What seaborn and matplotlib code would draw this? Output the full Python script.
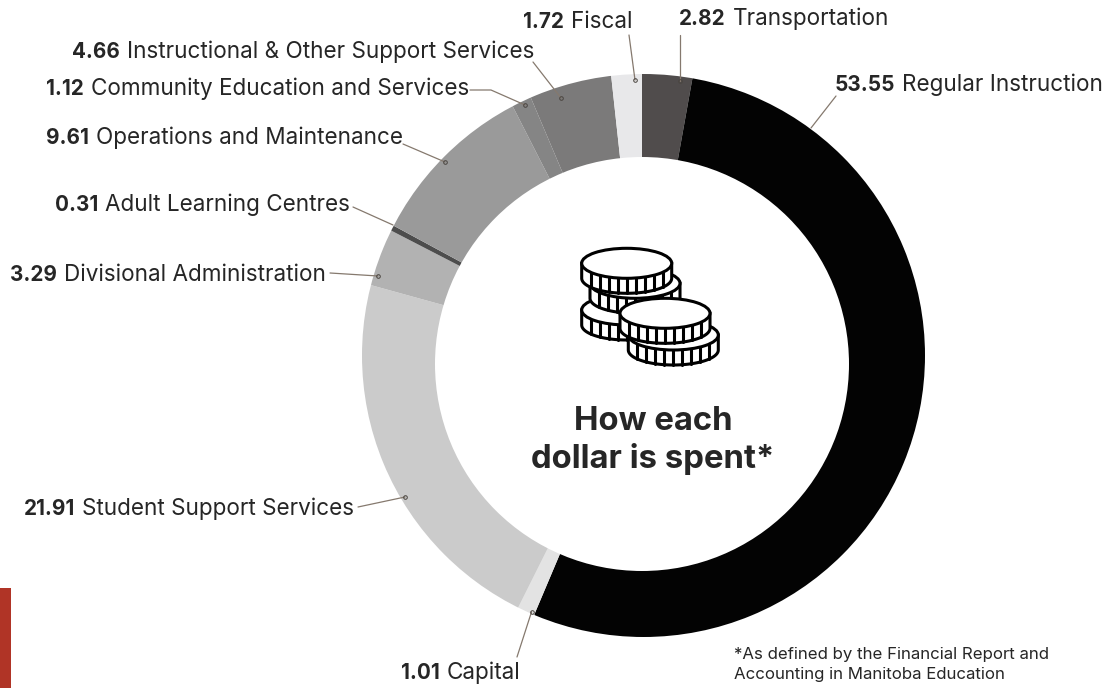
#!/usr/bin/env python3
# -*- coding: utf-8 -*-

"""Donut chart: how each dollar is spent."""

import numpy as np
import matplotlib
matplotlib.use('Agg')
import matplotlib.pyplot as plt
from matplotlib.patches import Circle, Ellipse, Polygon, Rectangle, Wedge
import seaborn as sns

# Data, clockwise from the top
categorias = ['Transportation', 'Regular Instruction', 'Capital',
              'Student Support Services', 'Divisional Administration',
              'Adult Learning Centres', 'Operations and Maintenance',
              'Community Education and Services',
              'Instructional & Other Support Services', 'Fiscal']
valores = [2.82, 53.55, 1.01, 21.91, 3.29, 0.31, 9.61, 1.12, 4.66, 1.72]
colores = ['#504c4c', '#030303', '#e3e3e3', '#cbcbcb', '#b2b2b2',
           '#4d4d4d', '#9a9a9a', '#858585', '#7b7a7a', '#e8e8ea']

# Layout in picture pixels (y downwards)
ANCHO, ALTO = 1108, 688
# hole, outer edge and slice centre are not concentric in the original
CENTRO_PIE = (642, 360)
CENTRO_INT = (642, 364)
RADIO_INT = 207
CENTRO_EXT = (643.5, 355.5)
RADIO_EXT = 281.5
FUENTE = 'Inter'
TEXTO = '#262626'
LINEA = '#85796e'

# label left x, label baseline y, leader points, has end dot
etiquetas = {
    'Transportation': (679, 25, [(680, 35), (680, 81)], True),
    'Regular Instruction': (835, 91, [(836, 96), (811, 128)], False),
    'Capital': (401, 679, [(517, 657), (531.5, 612)], True),
    'Student Support Services': (24, 515, [(358, 507), (405, 497)], True),
    'Divisional Administration': (10, 281, [(330, 273), (378, 276)], True),
    'Adult Learning Centres': (55, 211, [(353, 207), (393, 225)], False),
    'Operations and Maintenance': (46, 144, [(403, 144), (445, 162)], True),
    'Community Education and Services': (46, 95, [(470, 90), (491, 90), (525, 105)], True),
    'Instructional & Other Support Services': (72, 58, [(533, 62), (561, 98)], True),
    'Fiscal': (523, 28, [(629, 35), (635, 80)], True),
}

# coins: centre x, centre y of the top face
monedas = [(626.7, 310), (635, 283.3), (626.7, 263.3), (673.3, 335), (665, 313.3)]
MONEDA_RX, MONEDA_RY, MONEDA_H = 45, 15, 15


def py(y):
    """Pixel y (downwards) to axes y (upwards)."""
    return ALTO - y


def dibujar_moneda(ax, cx, cy):
    """One coin: ribbed side below a white top face."""
    t = np.linspace(np.pi, 2 * np.pi, 60)
    xs = cx + MONEDA_RX * np.cos(t)
    ys = py(cy) + MONEDA_RY * np.sin(t) - MONEDA_H
    cuerpo = np.vstack([np.column_stack([xs, ys]),
                        [cx + MONEDA_RX, py(cy)], [cx - MONEDA_RX, py(cy)]])
    ax.add_patch(Polygon(cuerpo, closed=True, fc='white', ec='black', lw=2.2, zorder=5))
    for xr in cx + MONEDA_RX * np.linspace(-0.8, 0.8, 9):
        yr = py(cy) - MONEDA_RY * np.sqrt(1 - ((xr - cx) / MONEDA_RX) ** 2)
        ax.plot([xr, xr], [yr, yr - MONEDA_H], color='black', lw=2.2, zorder=5)
    ax.add_patch(Ellipse((cx, py(cy)), 2 * MONEDA_RX, 2 * MONEDA_RY,
                         fc='white', ec='black', lw=2.2, zorder=5))


def poner_etiqueta(ax, renderer, x, y, valor, nombre):
    """Bold value followed by the regular category name on one baseline."""
    t = ax.text(x, py(y), f'{valor:.2f}', fontsize=14.9, fontweight='bold',
                family=FUENTE, color=TEXTO, va='baseline', ha='left', zorder=6)
    ancho = t.get_window_extent(renderer).width
    ax.text(x + ancho + 7, py(y), nombre, fontsize=16.2, family=FUENTE,
            color=TEXTO, va='baseline', ha='left', zorder=6)


def main():
    sns.set_theme(style='white')
    fig = plt.figure(figsize=(ANCHO / 100, ALTO / 100), dpi=100)
    ax = fig.add_axes([0, 0, 1, 1])

    # oversized pie; white shapes trim it to the outer edge and cut the hole
    radio_pie = RADIO_EXT + 40
    ax.pie(valores, colors=colores, startangle=90, counterclock=False,
           center=(CENTRO_PIE[0], py(CENTRO_PIE[1])), radius=radio_pie,
           wedgeprops={'linewidth': 0})
    ax.set_xlim(0, ANCHO)
    ax.set_ylim(0, ALTO)
    ax.set_aspect('equal')
    ax.axis('off')
    sns.despine(ax=ax, left=True, bottom=True)

    ax.add_patch(Wedge((CENTRO_EXT[0], py(CENTRO_EXT[1])), RADIO_EXT + 60, 0, 360,
                       width=60, fc='white', ec='none', zorder=2))
    ax.add_patch(Circle((CENTRO_INT[0], py(CENTRO_INT[1])), RADIO_INT,
                        fc='white', ec='none', zorder=2))

    renderer = fig.canvas.get_renderer()
    for nombre, valor in zip(categorias, valores):
        x, y, puntos, con_punto = etiquetas[nombre]
        poner_etiqueta(ax, renderer, x, y, valor, nombre)
        lx = [p[0] for p in puntos]
        ly = [py(p[1]) for p in puntos]
        ax.plot(lx, ly, color=LINEA, lw=0.9, zorder=3)
        if con_punto:
            ax.plot(lx[-1], ly[-1], 'o', ms=2.6, mfc='none', mec='#4a4540', mew=0.7, zorder=4)

    # Coins
    for cx, cy in monedas:
        dibujar_moneda(ax, cx, cy)

    # Centre title
    ax.text(653, py(430), 'How each', fontsize=23.7, fontweight='bold', family=FUENTE,
            color=TEXTO, ha='center', va='baseline')
    ax.text(653, py(468), 'dollar is spent*', fontsize=23.7, fontweight='bold', family=FUENTE,
            color=TEXTO, ha='center', va='baseline')

    # Footnote
    ax.text(734, py(659), '*As defined by the Financial Report and', fontsize=12.1,
            family=FUENTE, color=TEXTO, va='baseline')
    ax.text(734, py(679), 'Accounting in Manitoba Education', fontsize=12.1,
            family=FUENTE, color=TEXTO, va='baseline')

    # Red tab, bottom left
    ax.add_patch(Rectangle((0, 0), 11, py(588), fc='#b03426', ec='none'))

    fig.savefig('out.png', dpi=100)
    plt.close(fig)


if __name__ == "__main__":
    main()
